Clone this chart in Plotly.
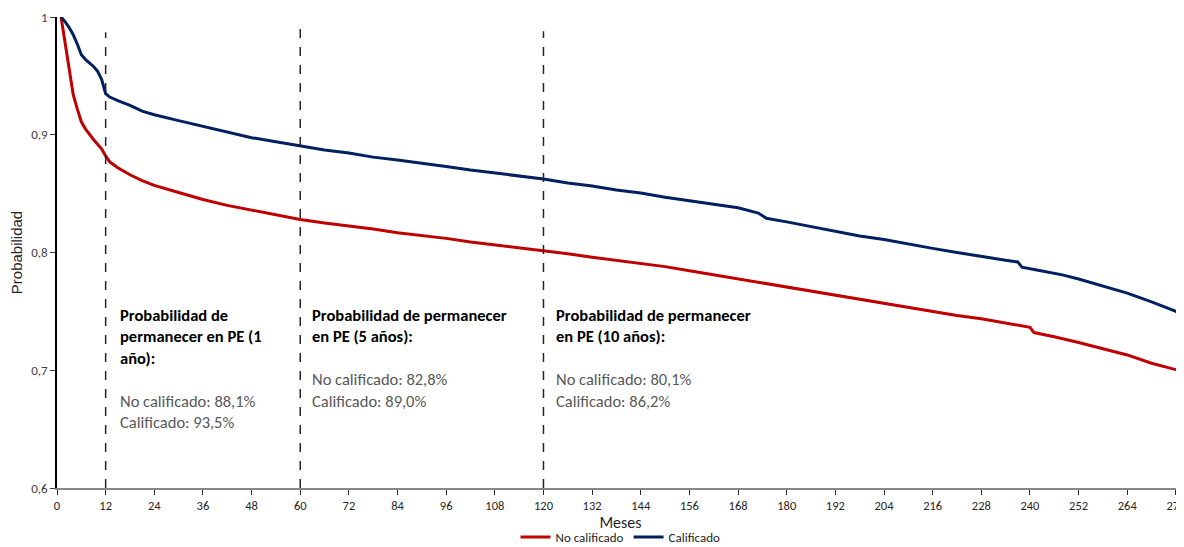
import plotly.graph_objects as go

# Survival curves (months since entry, probability of staying)
meses_no = [1, 2, 3, 4, 5, 6, 7, 8, 9, 10, 11, 12, 13, 15, 18, 21, 24, 30, 36, 42, 48, 54,
            60, 66, 72, 78, 84, 90, 96, 102, 108, 114, 120, 126, 132, 138, 144, 150, 156,
            162, 168, 174, 180, 186, 192, 198, 204, 210, 216, 222, 228, 234, 240, 241, 246,
            252, 258, 264, 270, 276, 278]
prob_no = [1.000, 0.978, 0.952, 0.934, 0.922, 0.911, 0.905, 0.900, 0.896, 0.892, 0.888,
           0.882, 0.877, 0.872, 0.866, 0.861, 0.857, 0.851, 0.845, 0.840, 0.836, 0.832,
           0.828, 0.825, 0.8225, 0.820, 0.8168, 0.8145, 0.812, 0.809, 0.8065, 0.8045,
           0.8015, 0.799, 0.796, 0.7935, 0.791, 0.788, 0.7845, 0.781, 0.778, 0.774,
           0.7705, 0.767, 0.764, 0.760, 0.7565, 0.753, 0.750, 0.7465, 0.7437, 0.740,
           0.7365, 0.732, 0.7285, 0.7235, 0.718, 0.713, 0.706, 0.7005, 0.698]

meses_cal = [1, 2, 3, 4, 5, 6, 7, 8, 9, 10, 11, 12, 13, 15, 18, 21, 24, 30, 36, 42, 48, 54,
             60, 66, 72, 78, 84, 90, 96, 102, 108, 114, 120, 126, 132, 138, 144, 150, 156,
             162, 168, 173, 175, 180, 186, 192, 198, 204, 210, 216, 222, 228, 234, 237,
             238, 242, 248, 252, 258, 264, 270, 276, 278]
prob_cal = [1.000, 0.996, 0.991, 0.985, 0.977, 0.968, 0.964, 0.961, 0.958, 0.954, 0.947,
            0.935, 0.932, 0.929, 0.925, 0.920, 0.917, 0.912, 0.907, 0.902, 0.8975, 0.894,
            0.8905, 0.887, 0.8845, 0.881, 0.8785, 0.876, 0.873, 0.870, 0.8675, 0.865,
            0.8625, 0.859, 0.8565, 0.853, 0.8505, 0.847, 0.844, 0.8415, 0.838, 0.8335,
            0.829, 0.826, 0.822, 0.818, 0.814, 0.811, 0.807, 0.8035, 0.800, 0.7965,
            0.7935, 0.792, 0.7875, 0.785, 0.781, 0.7775, 0.7715, 0.7655, 0.758, 0.750, 0.746]

# Milestones
hitos = [12, 60, 120]
hitos_top = [0.987, 0.992, 0.988]
titulos = ["Probabilidad de<br>permanecer en PE (1<br>año):",
           "Probabilidad de permanecer<br>en PE (5 años):",
           "Probabilidad de permanecer<br>en PE (10 años):"]
pct_no = ["88,1%", "82,8%", "80,1%"]
pct_cal = ["93,5%", "89,0%", "86,2%"]
texto_x = [15, 62.4, 122.6]

FONT = "Carlito, Lato, sans-serif"

fig = go.Figure()

fig.add_trace(go.Scatter(
    x=meses_no, y=prob_no,
    mode='lines',
    name='No calificado',
    line=dict(color='#C00000', width=3)
))

fig.add_trace(go.Scatter(
    x=meses_cal, y=prob_cal,
    mode='lines',
    name='Calificado',
    line=dict(color='#002060', width=3)
))

# dashed milestone lines
for m, top in zip(hitos, hitos_top):
    fig.add_shape(type='line', x0=m, x1=m, y0=0.6, y1=top,
                  line=dict(color='#262626', width=1.5, dash='dash'))

# milestone text boxes
for x, t, n, c in zip(texto_x, titulos, pct_no, pct_cal):
    txt = (f"<b>{t}</b><br> <br>"
           f"<span style='color:#595959'>No calificado: {n}<br>Calificado: {c}</span>")
    fig.add_annotation(x=x, y=0.757, text=txt, showarrow=False,
                       xanchor='left', yanchor='top', align='left',
                       font=dict(family=FONT, size=16.5, color='black'))

# page body has an 8px margin, so the figure is drawn 8px smaller
fig.update_layout(
    width=1176, height=539,
    margin=dict(l=49, r=0, t=9, b=59, autoexpand=False),
    plot_bgcolor='white', paper_bgcolor='white',
    separators=',.',
    font=dict(family=FONT, color='#404040', size=12),
    showlegend=True,
    legend=dict(orientation='h', x=0.5, xanchor='center', y=-0.104, yanchor='middle',
                font=dict(size=13, color='#262626'), itemwidth=30),
    xaxis=dict(
        range=[0, 278], tickmode='linear', tick0=0, dtick=12,
        showgrid=False, zeroline=False, automargin=False,
        showline=True, linecolor='#868686', linewidth=2,
        ticks='outside', ticklen=5, tickcolor='#262626',
        ticklabeloverflow='allow',
        title=dict(text='Meses', font=dict(size=16, color='#262626'), standoff=4),
        tickfont=dict(size=12.5, color='#262626')
    ),
    yaxis=dict(
        range=[0.6, 1], tickmode='linear', tick0=0.6, dtick=0.1,
        showgrid=False, zeroline=False, automargin=False,
        showline=True, linecolor='black', linewidth=1.5,
        ticks='outside', ticklen=5, tickcolor='#404040',
        title=dict(text='Probabilidad', font=dict(family='Liberation Sans, Arial', size=15,
                                                   color='#262626'), standoff=8),
        tickfont=dict(size=13, color='#404040')
    )
)

fig.write_html("out.html")
